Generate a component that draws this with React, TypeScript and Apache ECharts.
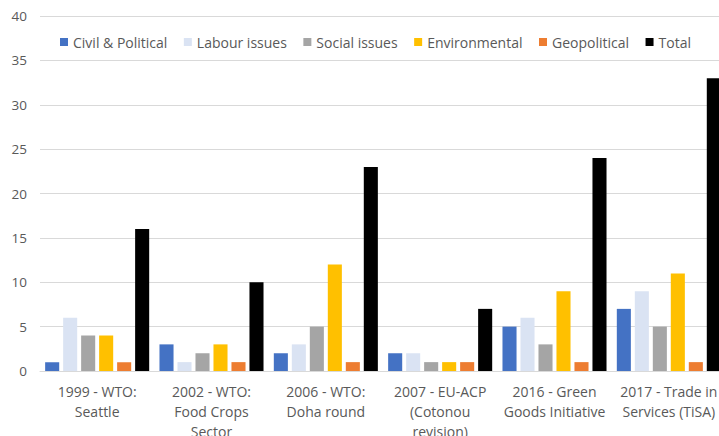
import React, { useEffect, useRef } from "react";
import * as echarts from "echarts";

const categories = [
  "1999 - WTO:\nSeattle",
  "2002 - WTO:\nFood Crops\nSector",
  "2006 - WTO:\nDoha round",
  "2007 - EU-ACP\n(Cotonou\nrevision)",
  "2016 - Green\nGoods Initiative",
  "2017 - Trade in\nServices (TiSA)",
];

const civilPolitical = [1, 3, 2, 2, 5, 7];
const labourIssues = [6, 1, 3, 2, 6, 9];
const socialIssues = [4, 2, 5, 1, 3, 5];
const environmental = [4, 3, 12, 1, 9, 11];
const geopolitical = [1, 1, 1, 1, 1, 1];
const total = [16, 10, 23, 7, 24, 33];

const seriesDefs = [
  { name: "Civil & Political", data: civilPolitical, color: "#4472C4" },
  { name: "Labour issues", data: labourIssues, color: "#DAE3F3" },
  { name: "Social issues", data: socialIssues, color: "#A5A5A5" },
  { name: "Environmental", data: environmental, color: "#FFC000" },
  { name: "Geopolitical", data: geopolitical, color: "#ED7D31" },
  { name: "Total", data: total, color: "#000000" },
];

const FONT = "'Open Sans', 'Noto Sans', sans-serif";

export default function App() {
  const ref = useRef<HTMLDivElement>(null);

  useEffect(() => {
    if (!ref.current) return;
    const chart = echarts.init(ref.current, null, { renderer: "svg" });
    chart.setOption({
      animation: false,
      backgroundColor: "#ffffff",
      textStyle: { fontFamily: FONT },
      legend: {
        top: 30,
        left: 55,
        itemWidth: 8,
        itemHeight: 8,
        itemGap: 16.5,
        icon: "rect",
        textStyle: { color: "#595959", fontSize: 14, fontFamily: FONT },
        data: seriesDefs.map((s) => s.name),
      },
      grid: {
        left: 40,
        right: -7,
        top: 16,
        bottom: 65,
        containLabel: false,
        outerBoundsMode: "none",
      },
      xAxis: {
        type: "category",
        data: categories,
        axisLine: { show: true, lineStyle: { color: "#D9D9D9" } },
        axisTick: { show: false },
        axisLabel: {
          color: "#595959",
          fontSize: 14,
          lineHeight: 20,
          margin: 10,
          interval: 0,
          fontFamily: FONT,
        },
      },
      yAxis: {
        type: "value",
        min: 0,
        max: 40,
        interval: 5,
        axisLine: { show: false },
        axisTick: { show: false },
        splitLine: { lineStyle: { color: "#D9D9D9" } },
        axisLabel: { color: "#595959", fontSize: 13.5, margin: 13, fontFamily: FONT },
      },
      series: seriesDefs.map((s) => ({
        name: s.name,
        type: "bar",
        data: s.data,
        barGap: "28%",
        barCategoryGap: "9%",
        itemStyle: { color: s.color },
      })),
    });
    return () => chart.dispose();
  }, []);

  return (
    <div
      ref={ref}
      style={{ position: "absolute", left: 0, top: 0, width: 719, height: 436 }}
    />
  );
}
